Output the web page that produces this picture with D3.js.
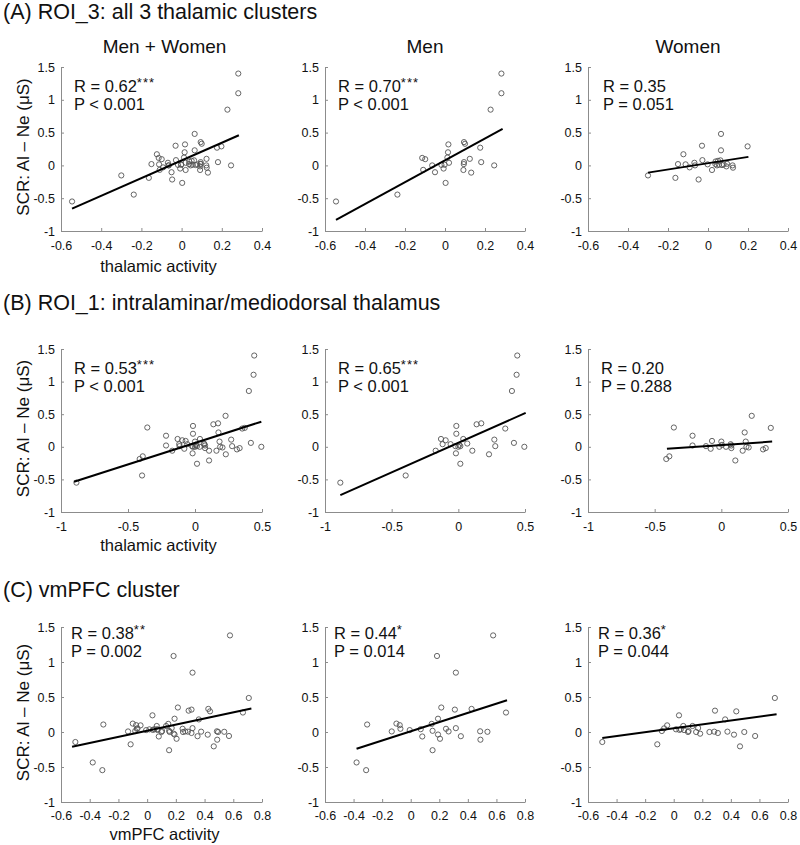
<!DOCTYPE html>
<html><head><meta charset="utf-8">
<script src="https://cdn.jsdelivr.net/npm/d3@7"></script>
<style>
html,body{margin:0;padding:0;background:#fff;}
text{font-family:"Liberation Sans",Arial,sans-serif;fill:#111;}
</style></head>
<body><svg id="c" width="800" height="845"></svg>
<script>
// ---------- data ----------
const rowTitles = ["(A) ROI_3: all 3 thalamic clusters", "(B) ROI_1: intralaminar/mediodorsal thalamus", "(C) vmPFC cluster"];
const colTitles = ["Men + Women", "Men", "Women"];
const xLabels = ["thalamic activity", "thalamic activity", "vmPFC activity"];
const yLabel = "SCR: Al \u2013 Ne (\u03bcS)";
const yTicks = [-1, -0.5, 0, 0.5, 1, 1.5];
const xTicksA = [-0.6, -0.4, -0.2, 0, 0.2, 0.4];
const xTicksB = [-1, -0.5, 0, 0.5];
const xTicksC = [-0.6, -0.4, -0.2, 0, 0.2, 0.4, 0.6, 0.8];

const menA = [[-0.545,-0.55],[-0.238,-0.445],[-0.114,0.114],[-0.099,0.095],[-0.109,-0.068],[-0.064,0.0],[-0.05,-0.104],[-0.018,0.008],[-0.007,-0.048],[0.003,-0.267],[0.017,0.32],[0.015,0.20],[0.012,0.12],[0.02,0.04],[-0.002,0.01],[0.092,-0.07],[0.094,0.02],[0.095,0.05],[0.095,0.355],[0.10,0.33],[0.124,0.10],[0.131,-0.11],[0.176,0.27],[0.181,0.05],[0.246,0.0],[0.228,0.85],[0.282,1.10],[0.282,1.40]];
const womenA = [[-0.30,-0.153],[-0.163,-0.19],[-0.123,0.17],[-0.15,0.02],[-0.112,0.016],[-0.092,-0.03],[-0.068,0.04],[-0.065,0.0],[-0.047,-0.215],[-0.03,0.30],[-0.028,0.08],[-0.002,0.016],[0.02,-0.07],[0.037,0.02],[0.038,0.06],[0.045,0.0],[0.05,0.07],[0.055,0.01],[0.062,0.077],[0.07,0.005],[0.078,0.015],[0.092,-0.015],[0.095,0.025],[0.123,0.0],[0.125,-0.035],[0.065,0.48],[0.065,0.23],[0.198,0.29]];
const menB = [[-0.885,-0.55],[-0.395,-0.44],[-0.17,-0.06],[-0.13,0.12],[-0.118,0.04],[-0.095,0.10],[-0.058,0.04],[-0.015,0.32],[-0.015,0.20],[-0.022,0.01],[-0.018,-0.10],[0.0,0.0],[0.007,0.03],[0.015,-0.26],[0.015,0.01],[0.037,0.12],[0.067,0.05],[0.105,-0.06],[0.137,0.345],[0.172,0.36],[0.23,-0.115],[0.27,0.11],[0.277,0.01],[0.352,0.28],[0.402,0.856],[0.417,0.06],[0.437,1.105],[0.442,1.40],[0.495,0.0]];
const womenB = [[-0.413,-0.187],[-0.39,-0.146],[-0.356,0.296],[-0.216,0.17],[-0.216,0.02],[-0.115,0.01],[-0.08,-0.03],[-0.07,0.09],[-0.015,0.0],[0.0,0.08],[0.005,0.03],[0.035,0.0],[0.07,0.04],[0.075,0.02],[0.075,-0.02],[0.105,-0.21],[0.16,-0.06],[0.175,0.22],[0.183,0.08],[0.188,0.0],[0.205,-0.01],[0.228,0.475],[0.313,-0.04],[0.333,-0.02],[0.371,0.29]];
const menC = [[-0.379,-0.435],[-0.312,-0.545],[-0.305,0.107],[-0.133,0.008],[-0.10,0.12],[-0.077,0.098],[-0.072,0.046],[-0.007,0.027],[0.07,0.04],[0.081,-0.064],[0.147,0.116],[0.153,0.017],[0.153,-0.26],[0.184,1.086],[0.191,0.19],[0.191,-0.036],[0.205,-0.097],[0.214,0.35],[0.247,0.046],[0.265,0.008],[0.309,0.32],[0.316,0.055],[0.316,0.848],[0.351,-0.06],[0.426,0.33],[0.486,0.01],[0.488,-0.11],[0.537,0.003],[0.577,1.38],[0.667,0.278]];
const womenC = [[-0.5,-0.143],[-0.115,-0.176],[-0.083,0.014],[-0.067,0.052],[-0.046,0.095],[0.016,0.038],[0.037,0.238],[0.04,0.03],[0.05,0.04],[0.067,0.086],[0.072,0.028],[0.10,0.0],[0.104,0.014],[0.132,0.086],[0.157,0.0],[0.171,0.057],[0.185,-0.024],[0.25,0.0],[0.284,0.005],[0.289,0.305],[0.309,-0.014],[0.36,0.18],[0.376,0.005],[0.422,-0.038],[0.438,0.295],[0.464,-0.205],[0.494,0.0],[0.57,-0.057],[0.708,0.486]];

// regression line endpoints [[x1,y1],[x2,y2]]
const fitA = [[[-0.545,-0.66],[0.285,0.46]], [[-0.545,-0.83],[0.288,0.558]], [[-0.30,-0.11],[0.202,0.13]]];
const fitB = [[[-0.903,-0.535],[0.495,0.385]], [[-0.885,-0.74],[0.505,0.52]], [[-0.408,-0.03],[0.381,0.08]]];
const fitC = [[[-0.523,-0.211],[0.726,0.336]], [[-0.379,-0.24],[0.674,0.454]], [[-0.5,-0.086],[0.72,0.252]]];

const statR = [["0.62","***"],["0.70","***"],["0.35",""],["0.53","***"],["0.65","***"],["0.20",""],["0.38","**"],["0.44","*"],["0.36","*"]];
const statP = ["P < 0.001","P < 0.001","P = 0.051","P < 0.001","P < 0.001","P = 0.288","P = 0.002","P = 0.014","P = 0.044"];

// ---------- layout ----------
const svg = d3.select("#c");
const cols = [[61,262],[325,525],[588,788]];
const rows = [
  {y:[67,231], xdom:[-0.6,0.4], ticks:xTicksA, pad:7, title:18.5, xlab:272, rt:{dx:13,dy:24.7}},
  {y:[349,512], xdom:[-1,0.5], ticks:xTicksB, pad:7, title:310, xlab:550.5, rt:{dx:13,dy:24.5}},
  {y:[627,802], xdom:[-0.6,0.8], ticks:xTicksC, pad:6, title:597, xlab:840, rt:{dx:10,dy:11.5}}
];
const dataRows = [[menA,womenA],[menB,womenB],[menC,womenC]];
const fits = [fitA,fitB,fitC];
const fmt = d => d === 0 ? "0" : String(d);
const axisCol = "#8c8c8c";

rows.forEach((r, ri) => {
  svg.append("text").attr("x", 3).attr("y", r.title).attr("font-size", 21.5).text(rowTitles[ri]);
  const [men, women] = dataRows[ri];
  const sets = [men.concat(women), men, women];
  cols.forEach((c, ci) => {
    const x = d3.scaleLinear().domain(r.xdom).range(c);
    const y = d3.scaleLinear().domain([-1, 1.5]).range([r.y[1], r.y[0]]);
    const g = svg.append("g");
    // axes
    const ax = g.append("g").attr("transform", `translate(0,${r.y[1]})`)
      .call(d3.axisBottom(x).tickValues(r.ticks).tickFormat(fmt).tickSizeInner(-3).tickSizeOuter(0).tickPadding(r.pad));
    const ay = g.append("g").attr("transform", `translate(${c[0]},0)`)
      .call(d3.axisLeft(y).tickValues(yTicks).tickFormat(fmt).tickSizeInner(-3).tickSizeOuter(0).tickPadding(6));
    [ax, ay].forEach(a => {
      a.select(".domain").attr("stroke", axisCol).attr("stroke-width", 1);
      a.selectAll(".tick line").attr("stroke", axisCol);
      a.selectAll(".tick text").attr("font-size", 12.5).attr("fill", "#111")
        .attr("font-family", '"Liberation Sans",Arial,sans-serif');
    });
    ax.selectAll(".tick text").attr("dy", "0.95em");
    // points
    g.append("g").selectAll("circle").data(sets[ci]).join("circle")
      .attr("cx", d => x(d[0])).attr("cy", d => y(d[1])).attr("r", 2.6)
      .attr("fill", "none").attr("stroke", "#555").attr("stroke-width", 0.9);
    // fit line
    const f = fits[ri][ci];
    g.append("line").attr("x1", x(f[0][0])).attr("y1", y(f[0][1]))
      .attr("x2", x(f[1][0])).attr("y2", y(f[1][1]))
      .attr("stroke", "#000").attr("stroke-width", 2);
    // stats
    const k = ri * 3 + ci;
    const tx = c[0] + r.rt.dx + (ri === 0 && ci === 2 ? 2 : 0) + (ri===2 && ci===1 ? -1 : 0);
    const ty = r.y[0] + r.rt.dy;
    const t = g.append("text").attr("x", tx).attr("y", ty).attr("font-size", 16.5);
    t.append("tspan").text("R = " + statR[k][0]);
    if (statR[k][1]) t.append("tspan").attr("font-size", 13).attr("dy", -5).attr("letter-spacing", 1).text(statR[k][1]);
    g.append("text").attr("x", tx).attr("y", ty + 18.5).attr("font-size", 16.5).text(statP[k]);
    // column titles only first row
    if (ri === 0) {
      svg.append("text").attr("x", (c[0] + c[1]) / 2 + (ci === 0 ? 3 : 0)).attr("y", 53)
        .attr("text-anchor", "middle").attr("font-size", 19).text(colTitles[ci]);
    }
    if (ci === 0) {
      svg.append("text").attr("x", (c[0] + c[1]) / 2 + (ri === 2 ? 3 : -3)).attr("y", r.xlab)
        .attr("text-anchor", "middle").attr("font-size", 16.5).text(xLabels[ri]);
      const cy = (r.y[0] + r.y[1]) / 2 - 2;
      svg.append("text").attr("transform", `translate(29,${cy}) rotate(-90)`)
        .attr("text-anchor", "middle").attr("font-size", 17).text(yLabel);
    }
  });
});
</script></body></html>
